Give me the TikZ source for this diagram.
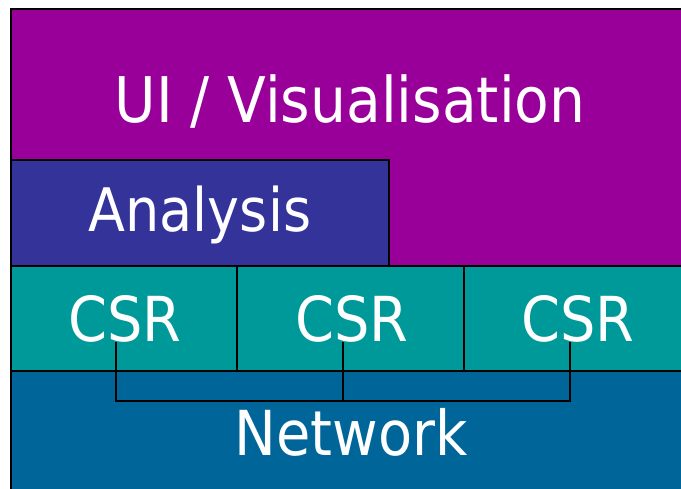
\documentclass[tikz,border=0pt]{standalone}
\usepackage{fontspec}
\usepackage{tikz}
\newfontfamily\cndfont{DejaVu Sans Condensed}
\definecolor{uipurple}{HTML}{990099}
\definecolor{anablue}{HTML}{333399}
\definecolor{csrteal}{HTML}{009999}
\definecolor{netblue}{HTML}{006699}
\tikzset{
  layer/.style={draw=black, line width=2.4pt, anchor=north west, inner sep=0pt},
  lbl/.style={text=white, anchor=base, inner sep=0pt, font=\cndfont\fontsize{62}{62}\selectfont},
  bus/.style={draw=black, line width=1.6pt}
}

\begin{document}
\begin{tikzpicture}[x=1pt, y=-1pt]
  \useasboundingbox (0,0) rectangle (681,489);
  \clip (0,0) rectangle (681,489);
  % layers, bottom up in drawing order
  \node[layer, fill=uipurple, minimum width=700pt, minimum height=270pt] (ui) at (10,8) {};
  \node[layer, fill=anablue, minimum width=378pt, minimum height=106pt] (analysis) at (10,159) {};
  \node[layer, fill=csrteal, minimum width=226pt, minimum height=105pt] (csrA) at (10,265) {};
  \node[layer, fill=csrteal, minimum width=227pt, minimum height=105pt] (csrB) at (236,265) {};
  \node[layer, fill=csrteal, minimum width=240pt, minimum height=105pt] (csrC) at (463,265) {};
  \node[layer, fill=netblue, minimum width=700pt, minimum height=140pt] (network) at (10,370) {};
  % labels
  \node[lbl, font=\cndfont\fontsize{63}{63}\selectfont] (uitext) at (350,123) {UI / Visualisation};
  \node[lbl, font=\cndfont\fontsize{60}{60}\selectfont] (anatext) at (200,232) {Analysis};
  \node[lbl] (csrtA) at (125,342) {CSR};
  \node[lbl] (csrtB) at (352,342) {CSR};
  \node[lbl] (csrtC) at (578,342) {CSR};
  \node[lbl] (nettext) at (351,455) {Network};
  % links to the network
  \coordinate (tapA) at (116,342);
  \coordinate (tapB) at (343,342);
  \coordinate (tapC) at (570,342);
  \coordinate (busA) at (116,401);
  \coordinate (busB) at (343,401);
  \coordinate (busC) at (570,401);
  \draw[bus] (tapA) -- (busA) -- (busC) -- (tapC);
  \draw[bus] (tapB) -- (busB);
\end{tikzpicture}
\end{document}
